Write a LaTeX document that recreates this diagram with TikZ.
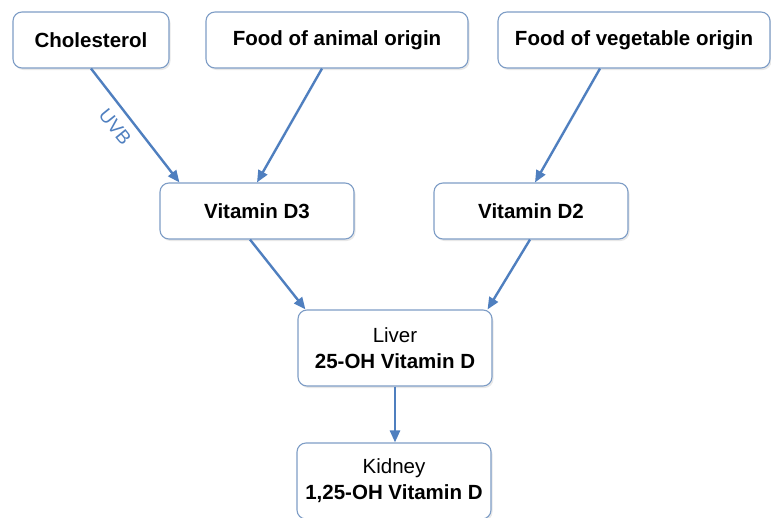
\documentclass[tikz,border=0pt]{standalone}
\usepackage{fontspec}
\setmainfont{Liberation Sans}
\usepackage{xcolor}
\usetikzlibrary{arrows.meta,shadows}

\begin{document}
\begin{tikzpicture}[x=1pt,y=-1pt,
  vbox/.style={draw=boxline,line width=1.1pt,fill=white,rounded corners=9pt,
    minimum width=194pt,minimum height=56pt,align=center,
    font=\fontsize{20.5}{26}\selectfont,
    drop shadow={opacity=0.18,shadow xshift=1.5pt,shadow yshift=-2pt}},
  varrow/.style={draw=arrowblue,line width=2.4pt,-{Triangle[length=12pt,width=10pt]}},
  uvb/.style={text=arrowblue,font=\fontsize{19}{21}\selectfont,inner sep=0pt}]
\definecolor{boxline}{HTML}{7E9DC6}
\definecolor{arrowblue}{HTML}{4F7FBF}
\useasboundingbox (0,0) rectangle (771,517);
\node [vbox,minimum width=156pt] (chol) at (91,40) {\textbf{Cholesterol}};
\node [vbox,minimum width=262pt] (animal) at (337,40) {\textbf{Food of animal origin}};
\node [vbox,minimum width=272pt] (veg) at (634,40) {\textbf{Food of vegetable origin}};
\node [vbox] (d3) at (257,211) {\textbf{Vitamin D3}};
\node [vbox] (d2) at (531,211) {\textbf{Vitamin D2}};
\node [vbox,minimum height=76pt] (liver) at (395,348) {Liver\\\textbf{25-OH Vitamin D}};
\node [vbox,minimum height=76pt] (kidney) at (394,481) {Kidney\\\textbf{1,25-OH Vitamin D}};
\draw [varrow] (chol.south) -- node[pos=0.42,rotate=-51,below=9pt,uvb] {UVB} ([xshift=20pt]d3.north west);
\draw [varrow] ([xshift=-15pt]animal.south) -- (d3.north);
\draw [varrow] ([xshift=-34pt]veg.south) -- ([xshift=4pt]d2.north);
\draw [varrow] ([xshift=-7pt]d3.south) -- ([xshift=8pt]liver.north west);
\draw [varrow] ([xshift=-1pt]d2.south) -- ([xshift=-5pt]liver.north east);
\draw [varrow] (liver.south) -- (liver.south |- kidney.north);
\end{tikzpicture}
\end{document}
